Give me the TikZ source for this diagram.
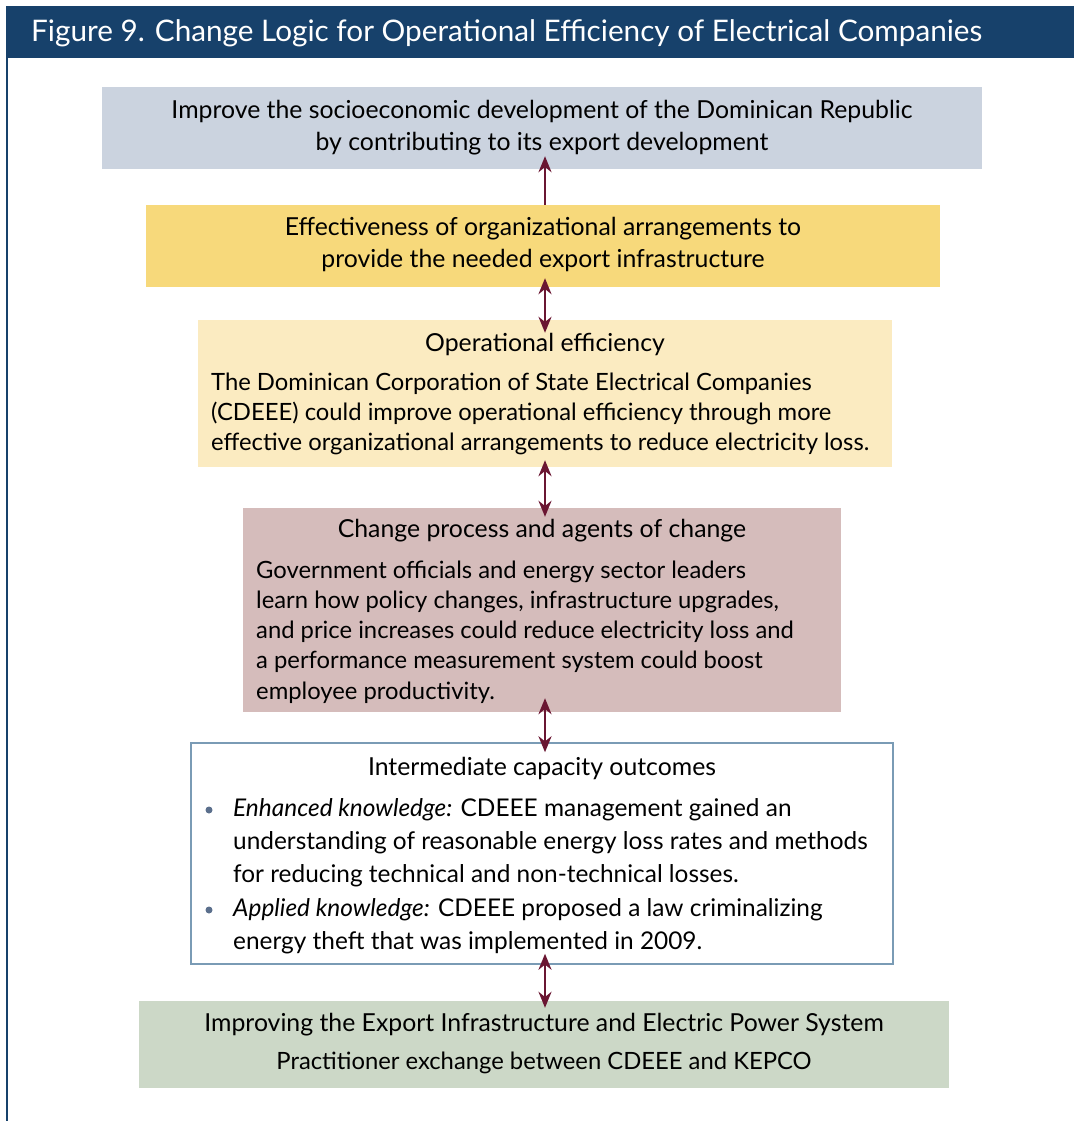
\documentclass[tikz,border=0pt]{standalone}
\usepackage{fontspec}
\setmainfont{Lato}
\usetikzlibrary{positioning, arrows.meta}

\definecolor{barblue}{RGB}{23,65,107}
\definecolor{goalgrey}{RGB}{203,211,223}
\definecolor{effyellow}{RGB}{247,217,123}
\definecolor{opyellow}{RGB}{251,235,193}
\definecolor{changepink}{RGB}{213,188,187}
\definecolor{outblue}{RGB}{122,155,181}
\definecolor{progreen}{RGB}{204,216,199}
\definecolor{linkred}{RGB}{106,22,50}
\definecolor{dotblue}{RGB}{91,111,140}

\begin{document}
\begin{tikzpicture}[x=1pt, y=-1pt,
    box/.style={rectangle, inner sep=0pt, draw=none},
    boxtext/.style={inner sep=0pt, align=center, font=\fontsize{24.8}{31.5}\selectfont},
    bodytext/.style={inner sep=0pt, align=left, anchor=west, font=\fontsize{23.8}{30.2}\selectfont},
    listtext/.style={inner sep=0pt, align=left, anchor=west, font=\fontsize{24.4}{33}\selectfont},
    bulletdot/.style={circle, fill=dotblue, inner sep=0pt, minimum size=7pt},
    uparrow/.style={-{Stealth[length=16pt, width=13pt]}, line width=2.5pt, draw=linkred},
    dblarrow/.style={{Stealth[length=16pt, width=13pt]}-{Stealth[length=16pt, width=13pt]}, line width=2.5pt, draw=linkred}
]

\useasboundingbox (0,0) rectangle (1074,1121);

% Title bar and frame
\node[box, fill=barblue, minimum width=1068pt, minimum height=52pt] (titlebar) at (540,32) {};
\node[inner sep=0pt, anchor=west, text=white, font=\fontsize{29.7}{34}\selectfont] (titletext) at (31,33) {Figure 9. Change Logic for Operational Efficiency of Electrical Companies};
\coordinate (frametop) at (7,58);
\coordinate (framebot) at (7,1121);
\draw[barblue, line width=1.5pt] (frametop) -- (framebot);

% Boxes
\node[box, fill=goalgrey, minimum width=880pt, minimum height=82pt] (goal) at (542,128) {};
\node[box, fill=effyellow, minimum width=794pt, minimum height=82pt] (effect) at (543,246) {};
\node[box, fill=opyellow, minimum width=694pt, minimum height=147pt] (opeff) at (545,393.5) {};
\node[box, fill=changepink, minimum width=598pt, minimum height=204pt] (change) at (542,610) {};
\node[box, fill=white, draw=outblue, line width=1.5pt, minimum width=702pt, minimum height=221pt] (outcome) at (542,853.5) {};
\node[box, fill=progreen, minimum width=810pt, minimum height=87pt] (program) at (544,1044.5) {};

% Texts
\node[boxtext] (goaltext) at (542,127.5) {Improve the socioeconomic development of the Dominican Republic\\by contributing to its export development};
\node[boxtext] (effecttext) at (543,244.5) {Effectiveness of organizational arrangements to\\provide the needed export infrastructure};

\node[boxtext] (optitle) at (545,344) {Operational efficiency};
\node[bodytext] (opbody) at (211,414) {The Dominican Corporation of State Electrical Companies\\(CDEEE) could improve operational efficiency through more\\effective organizational arrangements to reduce electricity loss.};

\node[boxtext] (changetitle) at (542,531) {Change process and agents of change};
\node[bodytext] (changebody) at (256,632) {Government officials and energy sector leaders\\learn how policy changes, infrastructure upgrades,\\and price increases could reduce electricity loss and\\a performance measurement system could boost\\employee productivity.};

\node[boxtext] (outtitle) at (542,768) {Intermediate capacity outcomes};
\node[bulletdot] (dotone) at (209,810) {};
\node[listtext] (itemone) at (233,843) {\textit{Enhanced knowledge:} CDEEE management gained an\\understanding of reasonable energy loss rates and methods\\for reducing technical and non-technical losses.};
\node[bulletdot] (dottwo) at (209,910) {};
\node[listtext] (itemtwo) at (233,926.5) {\textit{Applied knowledge:} CDEEE proposed a law criminalizing\\energy theft that was implemented in 2009.};

\node[boxtext] (progtitle) at (544,1025) {Improving the Export Infrastructure and Electric Power System};
\node[boxtext, font=\fontsize{23.8}{30}\selectfont] (progsub) at (544,1063) {Practitioner exchange between CDEEE and KEPCO};

% Links
\draw[uparrow] (effect.north -| opeff.north) -- ([yshift=13pt]goal.south -| opeff.north);
\draw[dblarrow] ([yshift=9pt]effect.south -| opeff.north) -- ([yshift=-13pt]opeff.north);
\draw[dblarrow] ([yshift=7pt]opeff.south) -- ([yshift=-9pt]change.north -| opeff.north);
\draw[dblarrow] ([yshift=14pt]change.south -| opeff.north) -- ([yshift=-10pt]outcome.north -| opeff.north);
\draw[dblarrow] ([yshift=11pt]outcome.south -| opeff.north) -- ([yshift=-7pt]program.north -| opeff.north);

\end{tikzpicture}
\end{document}
